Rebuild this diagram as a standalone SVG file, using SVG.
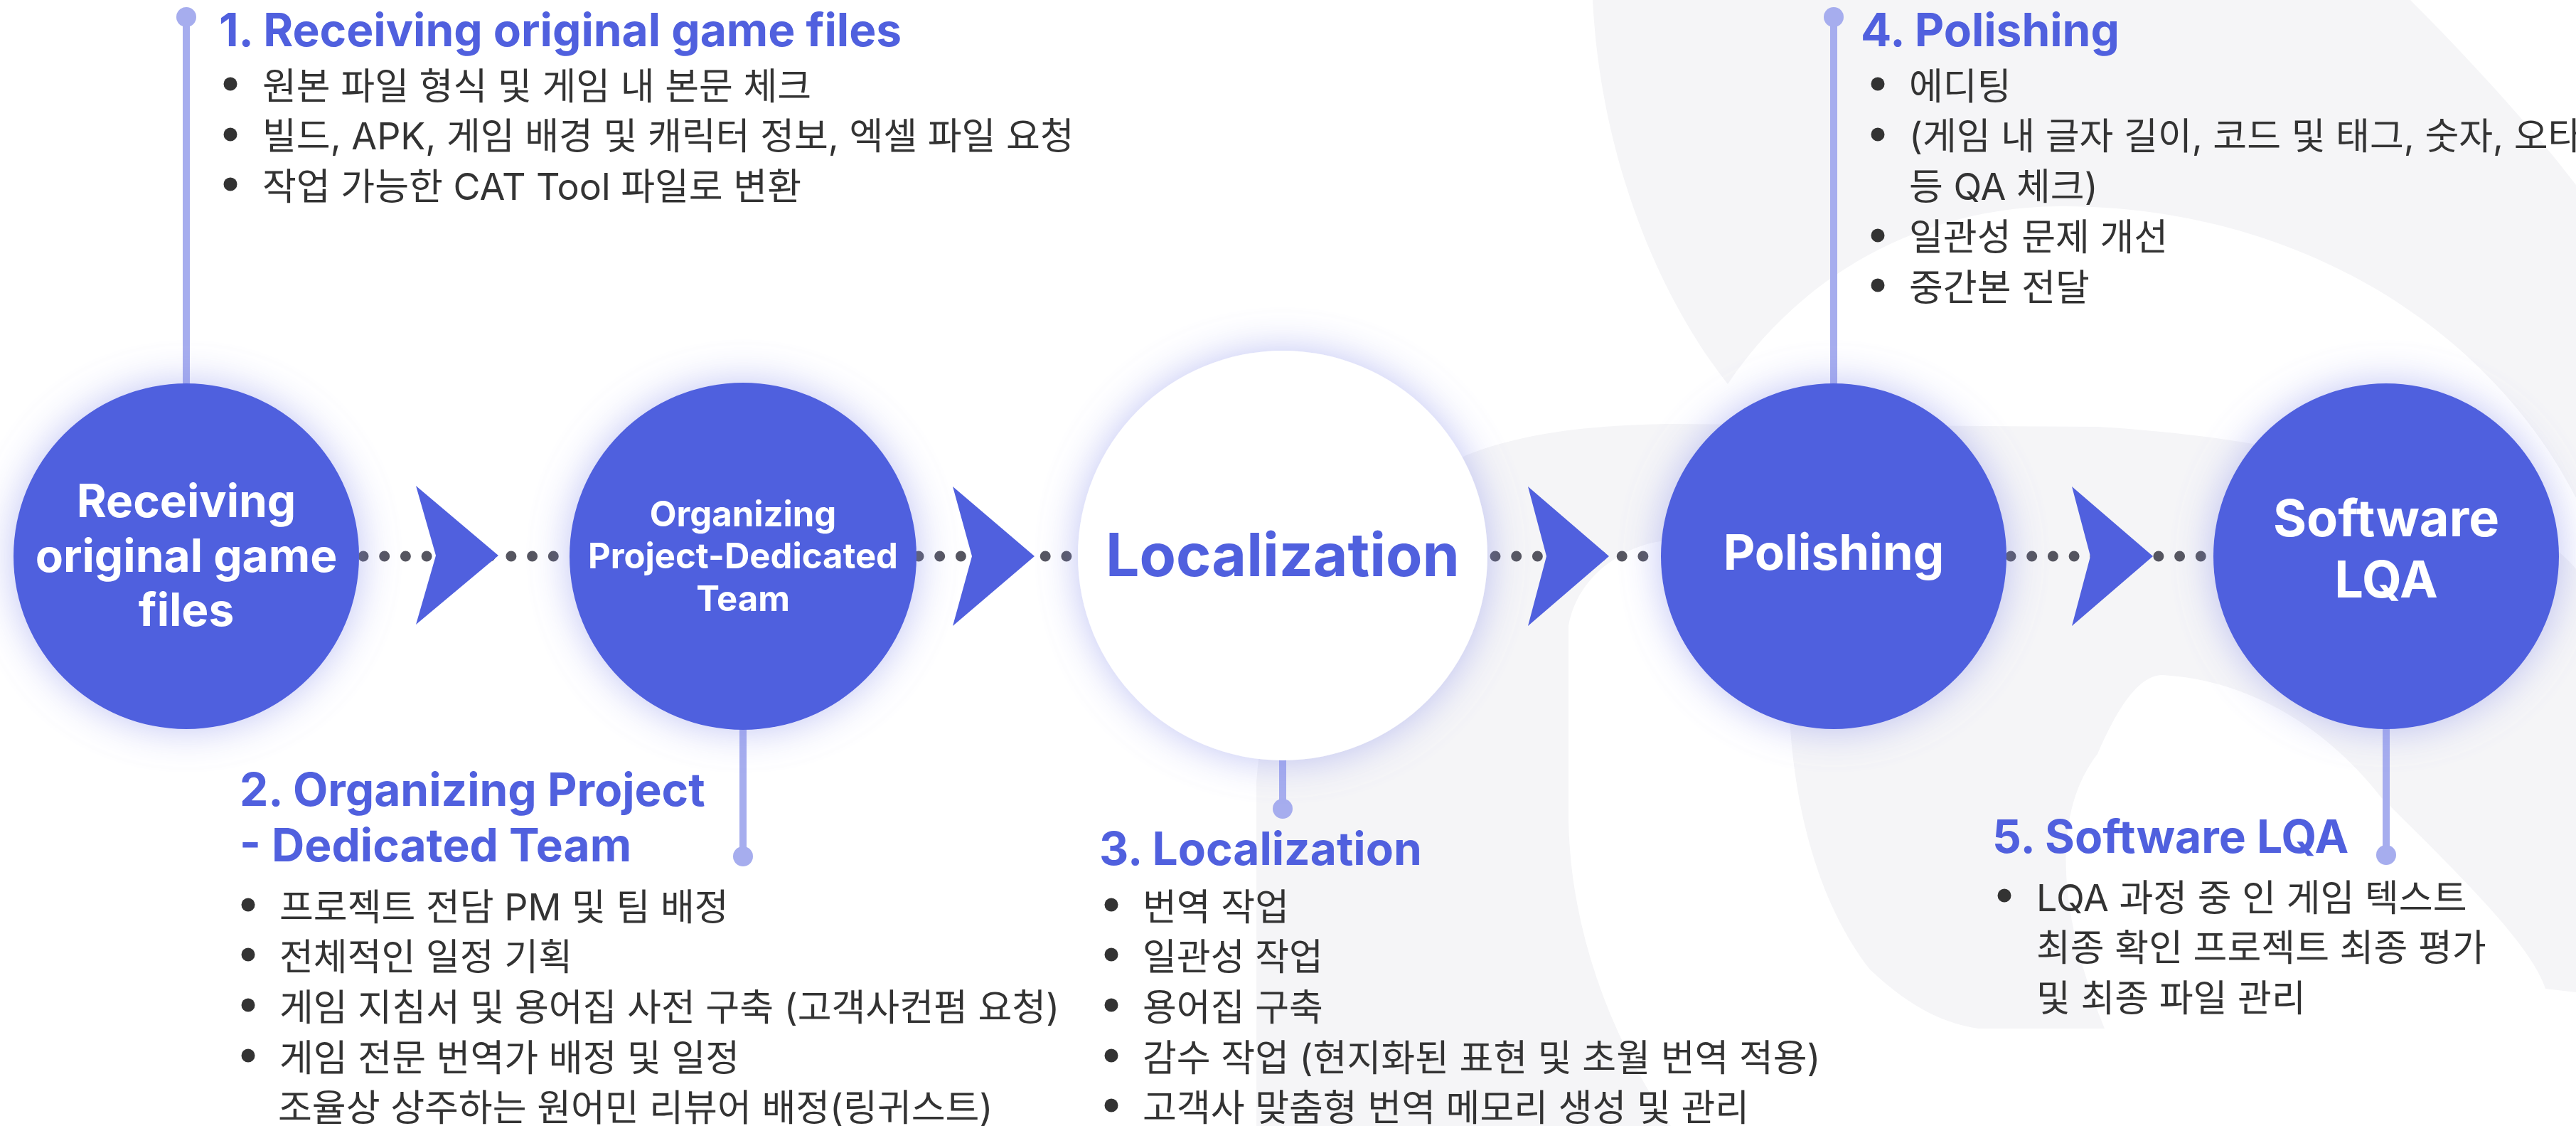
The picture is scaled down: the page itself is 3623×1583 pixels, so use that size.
<svg xmlns="http://www.w3.org/2000/svg" width="3623" height="1583" viewBox="0 0 3623 1583">
<style>
.h{font-family:Inter,'Noto Sans CJK KR',sans-serif;font-weight:700;fill:#5060DE;font-size:64px}
.b{font-family:Inter,'Noto Sans CJK KR',sans-serif;font-size:52px;fill:#333333}
.c{font-family:Inter,'Noto Sans CJK KR',sans-serif;font-weight:700;fill:#FFFFFF;text-anchor:middle}
.bl{fill:#333333}
.ln{stroke:#A6ADEE;stroke-width:10;fill:none}
.pin{fill:#A6ADEE}
.dots{stroke:#55555F;stroke-width:15;stroke-linecap:round;stroke-dasharray:0 29.7;fill:none}
.chev{fill:#5060DE}
.bg{fill:#F5F5F7}
</style>
<defs>
<filter id="glow" x="-40%" y="-40%" width="180%" height="180%">
<feGaussianBlur in="SourceAlpha" stdDeviation="28" result="b"/>
<feFlood flood-color="#7F87EA" flood-opacity="0.5"/>
<feComposite in2="b" operator="in" result="g"/>
<feMerge><feMergeNode in="g"/><feMergeNode in="SourceGraphic"/></feMerge>
</filter>
</defs>
<rect width="3623" height="1583" fill="#FFFFFF"/>
<g id="background">
<path class="bg" d="M2240 0 L3390 0 C3480 90 3570 190 3623 260 L3623 700 C3500 460 3230 290 2900 290 C2700 290 2530 390 2430 540 C2320 400 2250 200 2240 0 Z"/>
<path class="bg" fill-rule="evenodd" d="M1767 1583 L1767 1100 C1780 900 1900 720 2062 640 C2150 605 2250 598 2344 596 L2950 600 C3300 620 3560 720 3623 800 L3623 1583 Z M2350 1583 C2260 1450 2208 1300 2206 1150 L2206 880 C2220 800 2300 760 2350 760 C2430 770 2500 880 2518 1025 C2530 1190 2580 1300 2630 1363 C2690 1420 2740 1440 2783 1446 L2960 1446 C2900 1300 2880 1150 2950 1060 C2980 990 3010 950 3040 949 C3160 955 3270 1020 3349 1121 C3470 1240 3560 1330 3580 1390 L3623 1395 L3623 1583 Z"/>
</g>
<g id="connectors">
<line class="ln" x1="262" y1="24" x2="262" y2="545"/>
<circle class="pin" cx="262" cy="24" r="14"/>
<line class="ln" x1="1045" y1="1020" x2="1045" y2="1204"/>
<circle class="pin" cx="1045" cy="1204" r="14"/>
<line class="ln" x1="1804" y1="1060" x2="1804" y2="1137"/>
<circle class="pin" cx="1804" cy="1137" r="14"/>
<line class="ln" x1="2579" y1="24" x2="2579" y2="545"/>
<circle class="pin" cx="2579" cy="24" r="14"/>
<line class="ln" x1="3356" y1="1020" x2="3356" y2="1202"/>
<circle class="pin" cx="3356" cy="1202" r="14"/>
<line class="dots" x1="511" y1="782" x2="790" y2="782"/>
<line class="dots" x1="1292" y1="782" x2="1510" y2="782"/>
<line class="dots" x1="2103" y1="782" x2="2330" y2="782"/>
<line class="dots" x1="2828" y1="782" x2="3105" y2="782"/>
<polygon class="chev" points="585,683 701,781 585,878 613,781"/>
<polygon class="chev" points="1340,684 1455,782 1340,880 1367,782"/>
<polygon class="chev" points="2149,684 2263,782 2149,880 2175,782"/>
<polygon class="chev" points="2914,684 3028,782 2914,880 2940,782"/>
</g>
<g id="node1">
<circle cx="262" cy="782" r="243" fill="#5060DE" filter="url(#glow)"/>
<text class="c" font-size="64" x="262" y="727">Receiving</text>
<text class="c" font-size="64" x="262" y="804">original game</text>
<text class="c" font-size="64" x="262" y="880">files</text>
</g>
<g id="node2">
<circle cx="1045" cy="782" r="244" fill="#5060DE" filter="url(#glow)"/>
<text class="c" font-size="49" x="1045" y="740">Organizing</text>
<text class="c" font-size="49" x="1045" y="799">Project-Dedicated</text>
<text class="c" font-size="49" x="1045" y="859">Team</text>
</g>
<g id="node3">
<circle cx="1804" cy="781" r="288" fill="#FFFFFF" filter="url(#glow)"/>
<text class="c" font-size="84" x="1804" y="810" style="fill:#5060DE">Localization</text>
</g>
<g id="node4">
<circle cx="2579" cy="782" r="243" fill="#5060DE" filter="url(#glow)"/>
<text class="c" font-size="69" x="2579" y="801">Polishing</text>
</g>
<g id="node5">
<circle cx="3356" cy="782" r="243" fill="#5060DE" filter="url(#glow)"/>
<text class="c" font-size="72" x="3356" y="754">Software</text>
<text class="c" font-size="72" x="3356" y="840">LQA</text>
</g>
<g id="desc1">
<text class="h" x="308" y="65">1. Receiving original game files</text>
<circle class="bl" cx="324" cy="118" r="9.5"/>
<text class="b" x="369" y="140">원본 파일 형식 및 게임 내 본문 체크</text>
<circle class="bl" cx="324" cy="189" r="9.5"/>
<text class="b" x="369" y="210">빌드, APK, 게임 배경 및 캐릭터 정보, 엑셀 파일 요청</text>
<circle class="bl" cx="324" cy="259" r="9.5"/>
<text class="b" x="369" y="281">작업 가능한 CAT Tool 파일로 변환</text>
</g>
<g id="desc2">
<text class="h" x="337" y="1133">2. Organizing Project</text>
<text class="h" x="337" y="1211">- Dedicated Team</text>
<circle class="bl" cx="349" cy="1272" r="9.5"/>
<text class="b" x="393" y="1294">프로젝트 전담 PM 및 팀 배정</text>
<circle class="bl" cx="349" cy="1342" r="9.5"/>
<text class="b" x="393" y="1364">전체적인 일정 기획</text>
<circle class="bl" cx="349" cy="1413" r="9.5"/>
<text class="b" x="393" y="1435">게임 지침서 및 용어집 사전 구축 (고객사컨펌 요청)</text>
<circle class="bl" cx="349" cy="1484" r="9.5"/>
<text class="b" x="393" y="1506">게임 전문 번역가 배정 및 일정</text>
<text class="b" x="391" y="1576">조율상 상주하는 원어민 리뷰어 배정(링귀스트)</text>
</g>
<g id="desc3">
<text class="h" x="1546" y="1216">3. Localization</text>
<circle class="bl" cx="1563" cy="1272" r="9.5"/>
<text class="b" x="1607" y="1294">번역 작업</text>
<circle class="bl" cx="1563" cy="1342" r="9.5"/>
<text class="b" x="1607" y="1364">일관성 작업</text>
<circle class="bl" cx="1563" cy="1413" r="9.5"/>
<text class="b" x="1607" y="1435">용어집 구축</text>
<circle class="bl" cx="1563" cy="1484" r="9.5"/>
<text class="b" x="1607" y="1506">감수 작업 (현지화된 표현 및 초월 번역 적용)</text>
<circle class="bl" cx="1563" cy="1554" r="9.5"/>
<text class="b" x="1607" y="1576">고객사 맞춤형 번역 메모리 생성 및 관리</text>
</g>
<g id="desc4">
<text class="h" x="2617" y="65">4. Polishing</text>
<circle class="bl" cx="2641" cy="118" r="9.5"/>
<text class="b" x="2685" y="140">에디팅</text>
<circle class="bl" cx="2641" cy="189" r="9.5"/>
<text class="b" x="2685" y="210">(게임 내 글자 길이, 코드 및 태그, 숫자, 오타</text>
<text class="b" x="2685" y="281">등 QA 체크)</text>
<circle class="bl" cx="2641" cy="331" r="9.5"/>
<text class="b" x="2685" y="352">일관성 문제 개선</text>
<circle class="bl" cx="2641" cy="401" r="9.5"/>
<text class="b" x="2685" y="423">중간본 전달</text>
</g>
<g id="desc5">
<text class="h" x="2802" y="1199">5. Software LQA</text>
<circle class="bl" cx="2819" cy="1259" r="9.5"/>
<text class="b" x="2864" y="1281">LQA 과정 중 인 게임 텍스트</text>
<text class="b" x="2864" y="1351">최종 확인 프로젝트 최종 평가</text>
<text class="b" x="2864" y="1422">및 최종 파일 관리</text>
</g>
</svg>
